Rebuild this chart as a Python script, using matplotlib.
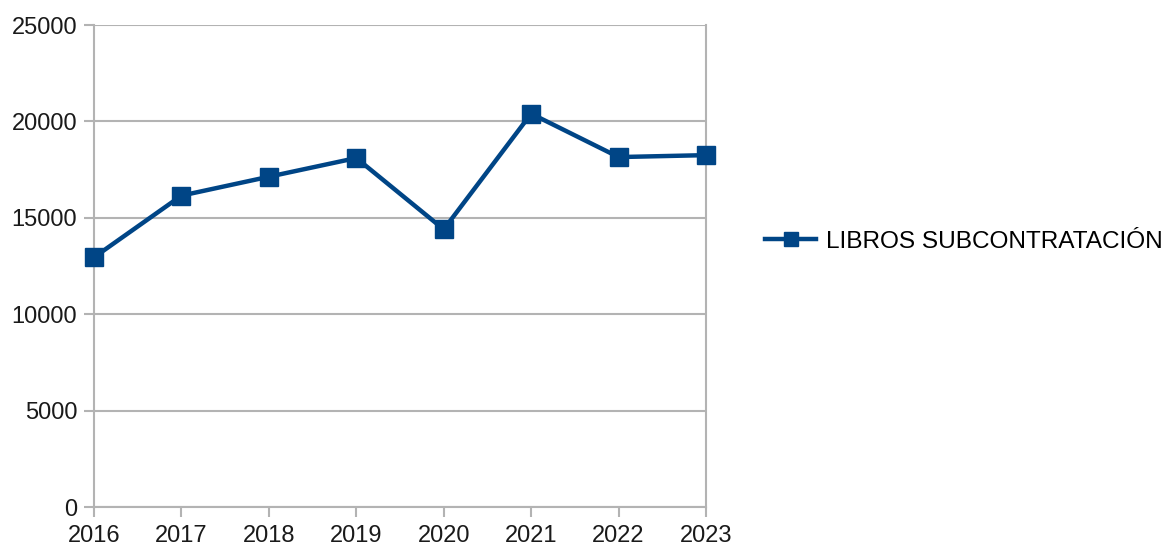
import matplotlib
matplotlib.use("Agg")
from matplotlib import pyplot as plt

years = ["2016", "2017", "2018", "2019", "2020", "2021", "2022", "2023"]
libros = [12950, 16150, 17130, 18100, 14400, 20400, 18150, 18250]
series_name = "LIBROS SUBCONTRATACIÓN"
y_ticks = [0, 5000, 10000, 15000, 20000, 25000]

plt.rcParams["font.family"] = ["Liberation Sans", "DejaVu Sans"]
grid_color = "#b3b3b3"
line_color = "#004586"

fig = plt.figure(figsize=(11.71, 5.5), dpi=100)
ax = fig.add_axes([94 / 1171, 43 / 550, 612 / 1171, 482 / 550])

x = list(range(len(years)))
ax.plot(x, libros, color=line_color, linewidth=3.2, marker="s",
        markersize=13, label=series_name, clip_on=False, zorder=3)

ax.set_xlim(0, len(years) - 1)
ax.set_ylim(0, 25000)
ax.set_xticks(x)
ax.set_xticklabels(years)
ax.set_yticks(y_ticks)
ax.yaxis.grid(True, color=grid_color, linewidth=1.5)
ax.set_axisbelow(True)

for side in ["left", "bottom", "right"]:
    ax.spines[side].set_color(grid_color)
    ax.spines[side].set_linewidth(1.5)
ax.spines["top"].set_visible(False)

ax.tick_params(axis="both", colors=grid_color, width=1.5, length=7,
               labelsize=17, labelcolor="#1a1a1a")
ax.tick_params(axis="x", pad=6)
ax.tick_params(axis="y", pad=5)

fig.legend(loc="center left", bbox_to_anchor=(743 / 1171, 1 - 242 / 550),
           frameon=False, fontsize=17.6, handlelength=2.1, handletextpad=0.4,
           markerscale=0.75)

fig.savefig("out.png", dpi=100)
